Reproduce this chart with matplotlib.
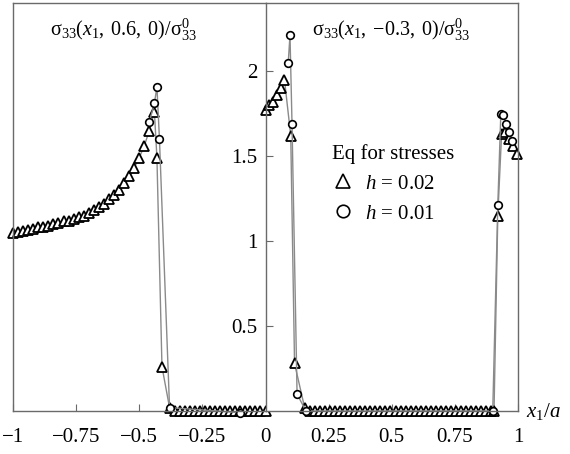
import matplotlib
matplotlib.use('Agg')
import matplotlib.pyplot as plt
from matplotlib.lines import Line2D

plt.rcParams['font.family'] = 'serif'
plt.rcParams['font.serif'] = ['Liberation Serif']
plt.rcParams['mathtext.fontset'] = 'custom'
plt.rcParams['mathtext.rm'] = 'Liberation Serif'
plt.rcParams['mathtext.it'] = 'Liberation Serif:italic'

# left panel: sigma33(x1, 0.6, 0)
left_x_tri = [-1.00, -0.98, -0.96, -0.94, -0.92, -0.90, -0.88, -0.86, -0.84, -0.82,
              -0.80, -0.78, -0.76, -0.74, -0.72, -0.70, -0.68, -0.66, -0.64, -0.62,
              -0.60, -0.58, -0.56, -0.54, -0.52, -0.50, -0.48, -0.46, -0.44, -0.43,
              -0.41, -0.38, -0.36, -0.34, -0.32, -0.30, -0.28, -0.26, -0.24, -0.22,
              -0.20, -0.18, -0.16, -0.14, -0.12, -0.10, -0.08, -0.06, -0.04, -0.02, 0.00]
left_y_tri = [1.05, 1.055, 1.06, 1.065, 1.07, 1.08, 1.085, 1.09, 1.10, 1.105,
              1.115, 1.12, 1.13, 1.14, 1.15, 1.165, 1.18, 1.20, 1.22, 1.245,
              1.27, 1.30, 1.34, 1.38, 1.43, 1.49, 1.56, 1.65, 1.76, 1.49,
              0.26, 0.02, 0.0, 0.0, 0.0, 0.0, 0.0, 0.0, 0.0, 0.0,
              0.0, 0.0, 0.0, 0.0, 0.0, 0.0, 0.0, 0.0, 0.0, 0.0, 0.0]
left_x_circ = [-0.46, -0.44, -0.43, -0.42, -0.38, -0.10]
left_y_circ = [1.70, 1.81, 1.906, 1.60, 0.02, -0.01]

# right panel: sigma33(x1, -0.3, 0)
right_x_tri = [0.0, 0.015, 0.03, 0.045, 0.06, 0.075, 0.10, 0.115, 0.155,
               0.175, 0.195, 0.215, 0.235, 0.255, 0.275, 0.295, 0.315, 0.335, 0.355,
               0.375, 0.395, 0.415, 0.435, 0.455, 0.475, 0.495, 0.515, 0.535, 0.555,
               0.575, 0.595, 0.615, 0.635, 0.655, 0.675, 0.695, 0.715, 0.735, 0.755,
               0.775, 0.795, 0.815, 0.835, 0.855, 0.875, 0.895, 0.905,
               0.92, 0.935, 0.95, 0.965, 0.98, 0.995]
right_y_tri = [1.77, 1.80, 1.82, 1.86, 1.90, 1.95, 1.62, 0.28, 0.02,
               0.0, 0.0, 0.0, 0.0, 0.0, 0.0, 0.0, 0.0, 0.0, 0.0,
               0.0, 0.0, 0.0, 0.0, 0.0, 0.0, 0.0, 0.0, 0.0, 0.0,
               0.0, 0.0, 0.0, 0.0, 0.0, 0.0, 0.0, 0.0, 0.0, 0.0,
               0.0, 0.0, 0.0, 0.0, 0.0, 0.0, 0.0, 0.0,
               1.15, 1.63, 1.64, 1.60, 1.56, 1.51]
right_x_circ = [0.09, 0.097, 0.105, 0.125, 0.16, 0.90, 0.92, 0.932, 0.942, 0.953, 0.965, 0.975]
right_y_circ = [2.05, 2.21, 1.69, 0.10, 0.0, 0.0, 1.21, 1.75, 1.74, 1.69, 1.64, 1.59]

left_ticks = [-1, -0.75, -0.5, -0.25, 0]
left_ticklabels = ['\u22121', '\u22120.75', '\u22120.5', '\u22120.25', '0']
right_xticks = [0.25, 0.5, 0.75, 1]
right_xticklabels = ['0.25', '0.5', '0.75', '1']
yticks = [0.5, 1, 1.5, 2]
yticklabels = ['0.5', '1', '1.5', '2']

frame_col = '#6a6a6a'
line_col = '#8a8a8a'
fs = 15

fig = plt.figure(figsize=(5.70, 4.54), dpi=100)
W, H = 570.0, 454.0
x0, xm, x1 = 13, 265.5, 518
ybot, ytop = 411, 3
axl = fig.add_axes([x0 / W, (H - ybot) / H, (xm - x0) / W, (ybot - ytop) / H])
axr = fig.add_axes([xm / W, (H - ybot) / H, (x1 - xm) / W, (ybot - ytop) / H])

tri = dict(marker='^', ms=7, mfc='white', mec='black', mew=1.3, color=line_col, lw=1.0)
circ = dict(marker='o', ms=5.5, mfc='white', mec='black', mew=1.2, color=line_col, lw=1.0)

axl.plot(left_x_tri, left_y_tri, clip_on=False, **tri)
axl.plot(left_x_circ, left_y_circ, clip_on=False, **circ)
axr.plot(right_x_tri, right_y_tri, clip_on=False, **tri)
axr.plot(right_x_circ, right_y_circ, clip_on=False, **circ)

for ax in (axl, axr):
    ax.set_ylim(0, 2.4)
    for s in ax.spines.values():
        s.set_color(frame_col)
        s.set_linewidth(1.0)
    ax.tick_params(direction='in', length=5, color=frame_col, labelsize=fs)

axl.set_xlim(-1, 0)
axl.set_xticks(left_ticks)
axl.set_xticklabels(left_ticklabels)
axl.set_yticks([])
axl.spines['right'].set_visible(False)
axl.tick_params(axis='x', pad=12)

axr.set_xlim(0, 1)
axr.set_xticks(right_xticks)
axr.set_xticklabels(right_xticklabels)
axr.set_yticks(yticks)
axr.set_yticklabels(yticklabels)
axr.tick_params(axis='x', pad=12)
axr.tick_params(axis='y', pad=6)

sig = '\u03c3'
axl.text(0.145, 0.935, r'$\mathrm{' + sig + r'}_{33}(x_{1},\;0.6,\;0)/\mathrm{' + sig + r'}^{0}_{33}$',
         transform=axl.transAxes, fontsize=14.5, va='center', ha='left')
axr.text(0.185, 0.935, r'$\mathrm{' + sig + r'}_{33}(x_{1},\;{-}0.3,\;0)/\mathrm{' + sig + r'}^{0}_{33}$',
         transform=axr.transAxes, fontsize=14.5, va='center', ha='left')

axr.text(1.03, 0.0, r'$x_{1}/a$', transform=axr.transAxes, fontsize=fs,
         va='center', ha='left')

handles = [Line2D([], [], ls='none', marker='^', ms=10, mfc='white', mec='black', mew=1.2),
           Line2D([], [], ls='none', marker='o', ms=9, mfc='white', mec='black', mew=1.2)]
leg = axr.legend(handles, [r'$h$ = 0.02', r'$h$ = 0.01'], title='Eq for stresses',
                 loc='upper left', bbox_to_anchor=(0.265, 0.655), frameon=False,
                 fontsize=fs, title_fontsize=fs, alignment='left',
                 handlelength=1.0, handletextpad=0.55, labelspacing=0.5,
                 borderaxespad=0, borderpad=0)

fig.savefig('out.png', dpi=100)
